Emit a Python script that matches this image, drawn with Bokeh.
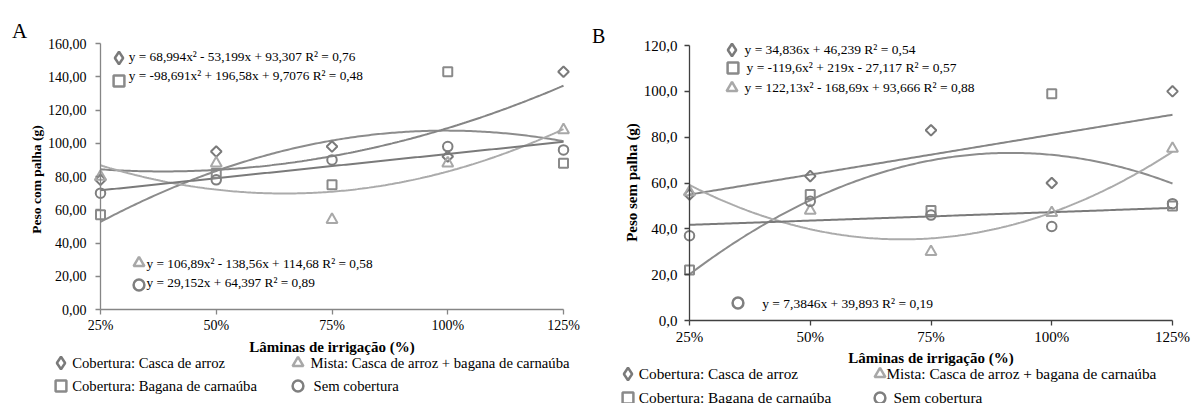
import numpy as np
from bokeh.plotting import figure
from bokeh.models import Legend, LegendItem, Label, FixedTicker, Range1d
from bokeh.layouts import row
from bokeh.embed import file_html
from bokeh.resources import INLINE
from bokeh.core.properties import value

# ---------------- data ----------------
laminas = [25, 50, 75, 100, 125]
x_tick_labels = ["25%", "50%", "75%", "100%", "125%"]

# Panel A - Peso com palha (g)
a_casca = [78, 95, 98, 92, 143]
a_bagana = [57, 82, 75, 143, 88]
a_mista = [80, 88, 54, 88, 108]
a_sem = [70, 78, 90, 98, 96]
a_y_ticks = [0, 20, 40, 60, 80, 100, 120, 140, 160]
a_y_labels = ["0,00", "20,00", "40,00", "60,00", "80,00", "100,00", "120,00", "140,00", "160,00"]
a_coef_casca = [68.994, -53.199, 93.307]
a_coef_bagana = [-98.691, 196.58, 9.7076]
a_coef_mista = [106.89, -138.56, 114.68]
a_coef_sem = [29.152, 64.397]
a_eq_casca = "y = 68,994x² - 53,199x + 93,307 R² = 0,76"
a_eq_bagana = "y = -98,691x² + 196,58x + 9,7076 R² = 0,48"
a_eq_mista = "y = 106,89x² - 138,56x + 114,68 R² = 0,58"
a_eq_sem = "y = 29,152x + 64,397 R² = 0,89"

# Panel B - Peso sem palha (g)
b_casca = [55, 63, 83, 60, 100]
b_bagana = [22, 55, 48, 99, 50]
b_mista = [56, 48, 30, 47, 75]
b_sem = [37, 52, 46, 41, 51]
b_y_ticks = [0, 20, 40, 60, 80, 100, 120]
b_y_labels = ["0,0", "20,0", "40,0", "60,0", "80,0", "100,0", "120,0"]
b_coef_casca = [34.836, 46.239]
b_coef_bagana = [-119.6, 219, -27.117]
b_coef_mista = [122.13, -168.69, 93.666]
b_coef_sem = [7.3846, 39.893]
b_eq_casca = "y = 34,836x + 46,239 R² = 0,54"
b_eq_bagana = "y = -119,6x² + 219x - 27,117 R² = 0,57"
b_eq_mista = "y = 122,13x² - 168,69x + 93,666 R² = 0,88"
b_eq_sem = "y = 7,3846x + 39,893 R² = 0,19"

leg_casca = "Cobertura: Casca de arroz"
leg_bagana = "Cobertura: Bagana de carnaúba"
leg_mista = "Mista: Casca de arroz + bagana de carnaúba"
leg_sem = "Sem cobertura"
x_title = "Lâminas de irrigação (%)"

# ---------------- style ----------------
FONT = "Liberation Serif"
mk_color = {"casca": "#7a7a7a", "bagana": "#8a8a8a", "mista": "#a8a8a8", "sem": "#7f7f7f"}
ln_color = {"casca": "#858585", "bagana": "#8c8c8c", "mista": "#ababab", "sem": "#7a7a7a"}
legend_marker = {"casca": "diamond", "bagana": "square", "mista": "triangle", "sem": "circle"}


def build_panel(series, coefs, y_ticks, y_labels, y_max, g, eq_items, leg_items,
                letter, ytitle):
    W, H, cl = g["w"], g["h"], g["cl"]
    # page-pixel geometry of the axes -> data ranges covering the whole canvas
    x0p, x1p = g["ax_l"] - cl, g["ax_r"] - cl
    kx = (x1p - x0p) / 100.0
    xr = Range1d(25 - x0p / kx, 25 + (W - x0p) / kx)
    y0p, y1p = g["ax_b"], g["ax_t"]
    ky = (y0p - y1p) / float(y_max)
    yr = Range1d(-(H - y0p) / ky, y0p / ky)

    p = figure(width=W, height=H, output_backend="svg", toolbar_location=None,
               x_range=xr, y_range=yr, min_border=0,
               min_border_left=0, min_border_right=0, min_border_top=0, min_border_bottom=0)
    p.outline_line_color = None
    p.grid.visible = False
    p.background_fill_color = "white"
    p.border_fill_color = "white"

    xs = np.linspace(25, 125, 201)
    for key in ["bagana", "casca", "mista", "sem"]:
        p.line(xs, np.polyval(coefs[key], xs / 100.0), line_color=ln_color[key], line_width=2)

    p.scatter(laminas, series["casca"], marker="square", angle=np.pi / 4, size=7.5,
              line_color=mk_color["casca"], fill_color=None, line_width=2)
    p.scatter(laminas, series["bagana"], marker="square", size=9,
              line_color=mk_color["bagana"], fill_color=None, line_width=2)
    p.scatter(laminas, series["mista"], marker="triangle", size=11,
              line_color=mk_color["mista"], fill_color=None, line_width=2)
    p.scatter(laminas, series["sem"], marker="circle", size=9.5,
              line_color=mk_color["sem"], fill_color=None, line_width=2)

    # legend-key glyphs (never visible on the data area)
    dummies = {}
    for key in ["casca", "bagana", "mista", "sem"]:
        dummies[key] = p.scatter(x=[np.nan], y=[np.nan], marker=legend_marker[key], size=10,
                                 line_color=mk_color[key], fill_color=None, line_width=2.5)

    def add_key(key, cx, cy):
        G = 31 if key == "casca" else 27
        leg = Legend(items=[LegendItem(label=value(""), renderers=[dummies[key]])],
                     location=(cx - G / 2.0 - cl, H - (cy + G / 2.0)),
                     orientation="vertical", glyph_width=G, glyph_height=G,
                     label_standoff=0, label_width=1, label_height=G,
                     padding=0, margin=0, spacing=0,
                     border_line_color=None, background_fill_alpha=0)
        p.add_layout(leg)

    def add_text(text, x, y, fs, **kw):
        p.add_layout(Label(x=x - cl, y=H - y, x_units="screen", y_units="screen", text=text,
                           text_font=FONT, text_font_size=fs, text_color="black", **kw))

    for key, text, cx, cy, tx, ty, fs in eq_items + leg_items:
        add_key(key, cx, cy)
        add_text(text, tx, ty, f"{fs}px", text_baseline="middle", text_align="left")

    axc = g["axc"]
    xa = p.xaxis[0]
    xa.fixed_location = 0
    xa.bounds = (25, 125)
    xa.ticker = FixedTicker(ticks=laminas)
    xa.major_label_overrides = dict(zip(laminas, x_tick_labels))
    xa.major_label_text_font = FONT
    xa.major_label_text_font_size = g["tk_fs"]
    xa.major_label_text_color = "black"
    xa.major_label_standoff = g["xl_so"]

    ya = p.yaxis[0]
    ya.fixed_location = 25
    ya.bounds = (0, y_max)
    ya.ticker = FixedTicker(ticks=y_ticks)
    ya.major_label_overrides = dict(zip(y_ticks, y_labels))
    ya.major_label_text_font = FONT
    ya.major_label_text_font_size = g["tk_fs"]
    ya.major_label_text_color = "black"
    ya.major_label_standoff = g["yl_so"]

    for ax in (xa, ya):
        ax.major_tick_out = 5
        ax.major_tick_in = 0
        ax.minor_tick_out = 0
        ax.minor_tick_in = 0
        ax.axis_line_color = axc
        ax.major_tick_line_color = axc
        ax.axis_line_width = 1.3
        ax.major_tick_line_width = 1.3

    add_text(letter, g["let_x"], g["let_y"], g["let_fs"], text_baseline="alphabetic",
             text_align="left")
    add_text(ytitle, g["yt_x"], g["yt_y"], g["yt_fs"], text_font_style="bold",
             angle=np.pi / 2, text_baseline="middle", text_align="center")
    add_text(x_title, (g["ax_l"] + g["ax_r"]) / 2.0, g["xt_y"], g["xt_fs"],
             text_font_style="bold", text_baseline="middle", text_align="center")
    return p


gA = dict(w=590, h=403, cl=0, ax_l=100, ax_r=563, ax_b=309, ax_t=43,
          axc="#868686", tk_fs="14px", xl_so=3, yl_so=9,
          let_x=11.5, let_y=30.5, let_fs="21px", yt_x=35.5, yt_y=179, yt_fs="13.5px",
          xt_y=346, xt_fs="15px")
gB = dict(w=606, h=403, cl=590, ax_l=689, ax_r=1172, ax_b=320, ax_t=45,
          axc="#404040", tk_fs="15px", xl_so=3, yl_so=7,
          let_x=591.5, let_y=35, let_fs="20px", yt_x=631, yt_y=182, yt_fs="15px",
          xt_y=357, xt_fs="15px")

# (key, text, marker cx, marker cy, text x, text y, font px) in page pixels
eqA = [("casca", a_eq_casca, 118.3, 57.3, 128.3, 56, 13.3),
       ("bagana", a_eq_bagana, 118.3, 80, 128.3, 75, 13.3),
       ("mista", a_eq_mista, 138.3, 262.7, 146, 262.7, 13.3),
       ("sem", a_eq_sem, 138.3, 284, 146, 282, 13.3)]
legA = [("casca", leg_casca, 60, 362.7, 71.7, 362.7, 14.7),
        ("bagana", leg_bagana, 60, 385.7, 71.7, 385.7, 14.7),
        ("mista", leg_mista, 297, 362.7, 310, 362.7, 14.7),
        ("sem", leg_sem, 297, 385.7, 313, 385.7, 14.7)]
eqB = [("casca", b_eq_casca, 731.7, 49.3, 744, 48.8, 13.5),
       ("bagana", b_eq_bagana, 732.7, 67.3, 746, 67, 13.5),
       ("mista", b_eq_mista, 731.7, 87.3, 744, 87, 13.5),
       ("sem", b_eq_sem, 737.3, 302.7, 761.7, 302.7, 13.5)]
legB = [("casca", leg_casca, 627.7, 373.3, 638.3, 373.3, 15.3),
        ("bagana", leg_bagana, 627.7, 397.3, 638.3, 397.3, 15.3),
        ("mista", leg_mista, 879, 373.3, 886, 373.3, 15.3),
        ("sem", leg_sem, 879, 397.3, 893, 397.3, 15.3)]

pA = build_panel(dict(casca=a_casca, bagana=a_bagana, mista=a_mista, sem=a_sem),
                 dict(casca=a_coef_casca, bagana=a_coef_bagana, mista=a_coef_mista, sem=a_coef_sem),
                 a_y_ticks, a_y_labels, 160, gA, eqA, legA, "A", "Peso com palha (g)")
pB = build_panel(dict(casca=b_casca, bagana=b_bagana, mista=b_mista, sem=b_sem),
                 dict(casca=b_coef_casca, bagana=b_coef_bagana, mista=b_coef_mista, sem=b_coef_sem),
                 b_y_ticks, b_y_labels, 120, gB, eqB, legB, "B", "Peso sem palha (g)")

layout = row(pA, pB)
open("out.html", "w").write(file_html(layout, INLINE))
